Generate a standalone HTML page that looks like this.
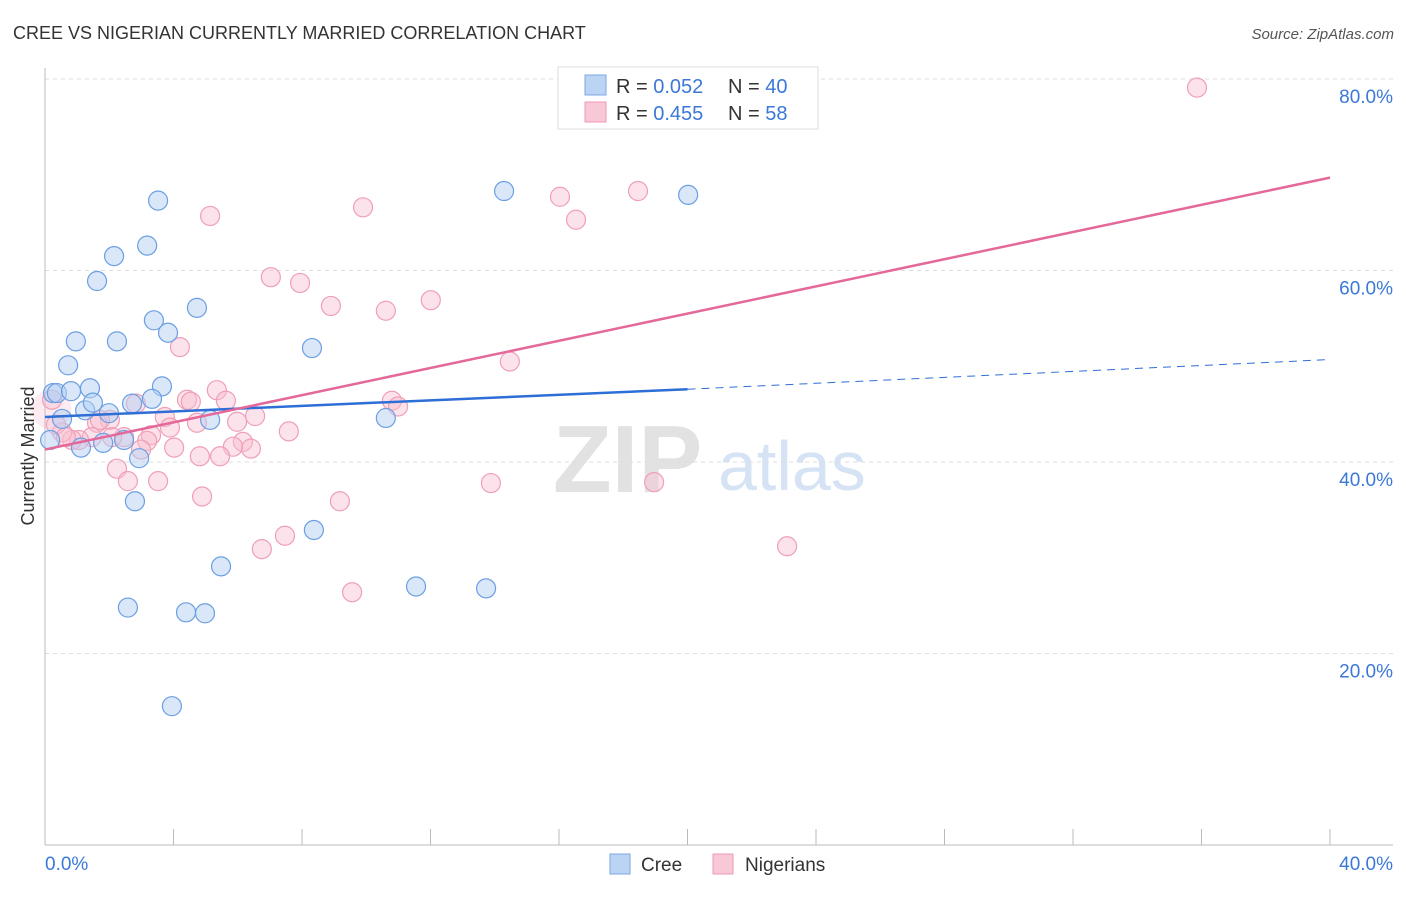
<!DOCTYPE html>
<html><head><meta charset="utf-8"><style>
body{margin:0;background:#fff;font-family:"Liberation Sans",sans-serif;}
svg text{font-family:"Liberation Sans",sans-serif;}
</style></head><body>
<svg id="chart" width="1406" height="892" xmlns="http://www.w3.org/2000/svg">
<text x="13" y="39" font-size="18" fill="#333">CREE VS NIGERIAN CURRENTLY MARRIED CORRELATION CHART</text>
<text x="1394" y="39" font-size="15" font-style="italic" fill="#555" text-anchor="end">Source: ZipAtlas.com</text>
<g>
<text x="553" y="492" font-size="96" font-family="Liberation Serif,serif" fill="#e2e2e2" font-weight="bold">ZIP</text>
<text x="718" y="490" font-size="70" fill="#d6e3f5">atlas</text>
</g>
<g id="grid"></g>
<g id="axes"></g>
<g id="marks"></g>
<g id="trends"></g>
<text transform="translate(34,456) rotate(-90)" font-size="18" fill="#333" text-anchor="middle">Currently Married</text>
<g>
<rect x="558" y="67" width="260" height="62" fill="#fff" stroke="#ddd"/>
<rect x="585" y="75" width="21" height="20" fill="#bcd4f4" stroke="#7aa7e4"/>
<rect x="585" y="102" width="21" height="20" fill="#f9c8d6" stroke="#ee98b2"/>
<text x="616" y="93" font-size="20" fill="#333">R = <tspan fill="#3b78d8">0.052</tspan></text>
<text x="728" y="93" font-size="20" fill="#333">N = <tspan fill="#3b78d8">40</tspan></text>
<text x="616" y="120" font-size="20" fill="#333">R = <tspan fill="#3b78d8">0.455</tspan></text>
<text x="728" y="120" font-size="20" fill="#333">N = <tspan fill="#3b78d8"> 58</tspan></text>
</g>
<g>
<rect x="610" y="854" width="20" height="20" fill="#bcd4f4" stroke="#7aa7e4"/>
<text x="641" y="871" font-size="19" fill="#333">Cree</text>
<rect x="713" y="854" width="20" height="20" fill="#f9c8d6" stroke="#ee98b2"/>
<text x="745" y="871" font-size="19" fill="#333">Nigerians</text>
</g>
</svg>
<script>
const yTicks=[20,40,60,80];
const yTickLabels=["20.0%","40.0%","60.0%","80.0%"];
const xTickLabels=["0.0%","40.0%"];
const creeX=[.25,.37,.81,1.40,.53,1.25,1.49,1.99,.72,.96,1.62,2.15,2.24,3.52,3.18,3.39,3.83,4.73,3.64,3.33,2.71,2.46,1.81,1.12,2.93,2.80,5.14,8.31,10.61,14.29,20.02,5.48,8.37,2.58,4.39,4.98,11.55,13.73,3.95,.16];
const creeY=[47.2,47.2,47.4,47.7,44.5,45.4,46.2,45.1,50.1,52.6,58.9,61.5,52.6,67.3,62.6,54.8,53.5,56.1,47.9,46.6,46.1,42.3,42.0,41.5,40.4,35.9,44.4,51.9,44.6,68.3,67.9,29.1,32.9,24.8,24.3,24.2,27.0,26.8,14.5,42.3];
const nigX=[35.86,5.14,9.90,16.03,16.53,18.46,7.03,7.94,8.90,10.61,12.01,4.20,14.47,5.35,4.42,4.54,5.63,2.83,3.73,5.98,6.54,4.73,3.89,10.80,10.99,7.59,6.16,6.41,5.85,5.45,4.82,4.02,3.30,3.18,2.99,2.46,2.02,1.62,1.46,1.06,.84,.53,.34,.22,2.24,2.58,3.52,4.89,9.18,13.88,18.96,6.75,7.47,9.56,23.10,1.71,.65,2.09];
const nigY=[79.1,65.7,66.6,67.7,65.3,68.3,59.3,58.7,56.3,55.8,56.9,52.0,50.5,47.5,46.5,46.3,46.4,46.1,44.7,44.2,44.8,44.1,43.6,46.4,45.8,43.2,42.1,41.4,41.6,40.6,40.6,41.5,42.8,42.2,41.3,42.6,44.4,44.1,42.6,42.3,42.3,43.1,43.9,46.5,39.3,38.0,38.0,36.4,35.9,37.8,37.9,30.9,32.3,26.4,31.2,44.4,42.6,42.6];
const creeTrend=[44.7,47.6,50.7]; // at x=0, 20 (solid end), 40 (dashed end)
const nigTrend=[41.3,69.7]; // at x=0, 40
const NS="http://www.w3.org/2000/svg";
const X0=45,X1=1330,Y0=845,Y80=79;
const sx=v=>X0+(v/40)*(X1-X0);
const sy=v=>Y0-(v/80)*(Y0-Y80);
function mk(tag,attrs,parent){const e=document.createElementNS(NS,tag);for(const k in attrs)e.setAttribute(k,attrs[k]);document.getElementById(parent).appendChild(e);return e;}
yTicks.forEach((t,i)=>{
 const l=mk('line',{x1:45,x2:1393,y1:sy(t),y2:sy(t),stroke:'#ddd','stroke-dasharray':'4,4'},'grid');
 
 
 const tx=mk('text',{x:1393,y:sy(t)+24,'font-size':19,fill:'#3b78d8','text-anchor':'end'},'grid');
 tx.textContent=yTickLabels[i];
 
 
});
const ax=mk('line',{x1:45,x2:1393,y1:Y0,y2:Y0,stroke:'#bbb'},'axes');


const ay=mk('line',{x1:45,x2:45,y1:68,y2:Y0,stroke:'#bbb'},'axes');


for(let i=1;i<=10;i++){
 const t=mk('line',{x1:sx(i*4),x2:sx(i*4),y1:Y0,y2:Y0-16,stroke:'#bbb'},'axes');
 
 
}
const xl0=mk('text',{x:45,y:870,'font-size':19,fill:'#3b78d8'},'axes');xl0.textContent=xTickLabels[0];


const xl1=mk('text',{x:1393,y:870,'font-size':19,fill:'#3b78d8','text-anchor':'end'},'axes');xl1.textContent=xTickLabels[1];


const big=mk('circle',{cx:sx(0.2),cy:sy(45.5),r:20,fill:'rgba(245,180,200,0.25)'},'marks');


nigX.forEach((v,i)=>{
 const c=mk('circle',{cx:sx(v),cy:sy(nigY[i]),r:9.5,fill:'rgba(248,190,208,0.45)',stroke:'#ef9fb8','stroke-width':1.2},'marks');
 
 
});
creeX.forEach((v,i)=>{
 const c=mk('circle',{cx:sx(v),cy:sy(creeY[i]),r:9.5,fill:'rgba(180,208,244,0.5)',stroke:'#6b9fe2','stroke-width':1.2},'marks');
 
 
});
const ct=mk('line',{x1:sx(0),y1:sy(creeTrend[0]),x2:sx(20),y2:sy(creeTrend[1]),stroke:'#2d6fd6','stroke-width':2.5},'trends');


const cd=mk('line',{x1:sx(20),y1:sy(creeTrend[1]),x2:sx(40),y2:sy(creeTrend[2]),stroke:'#2d6fd6','stroke-width':1,'stroke-dasharray':'8,6'},'trends');


const nt=mk('line',{x1:sx(0),y1:sy(nigTrend[0]),x2:sx(40),y2:sy(nigTrend[1]),stroke:'#e5689a','stroke-width':2.5},'trends');


</script>
</body></html>
